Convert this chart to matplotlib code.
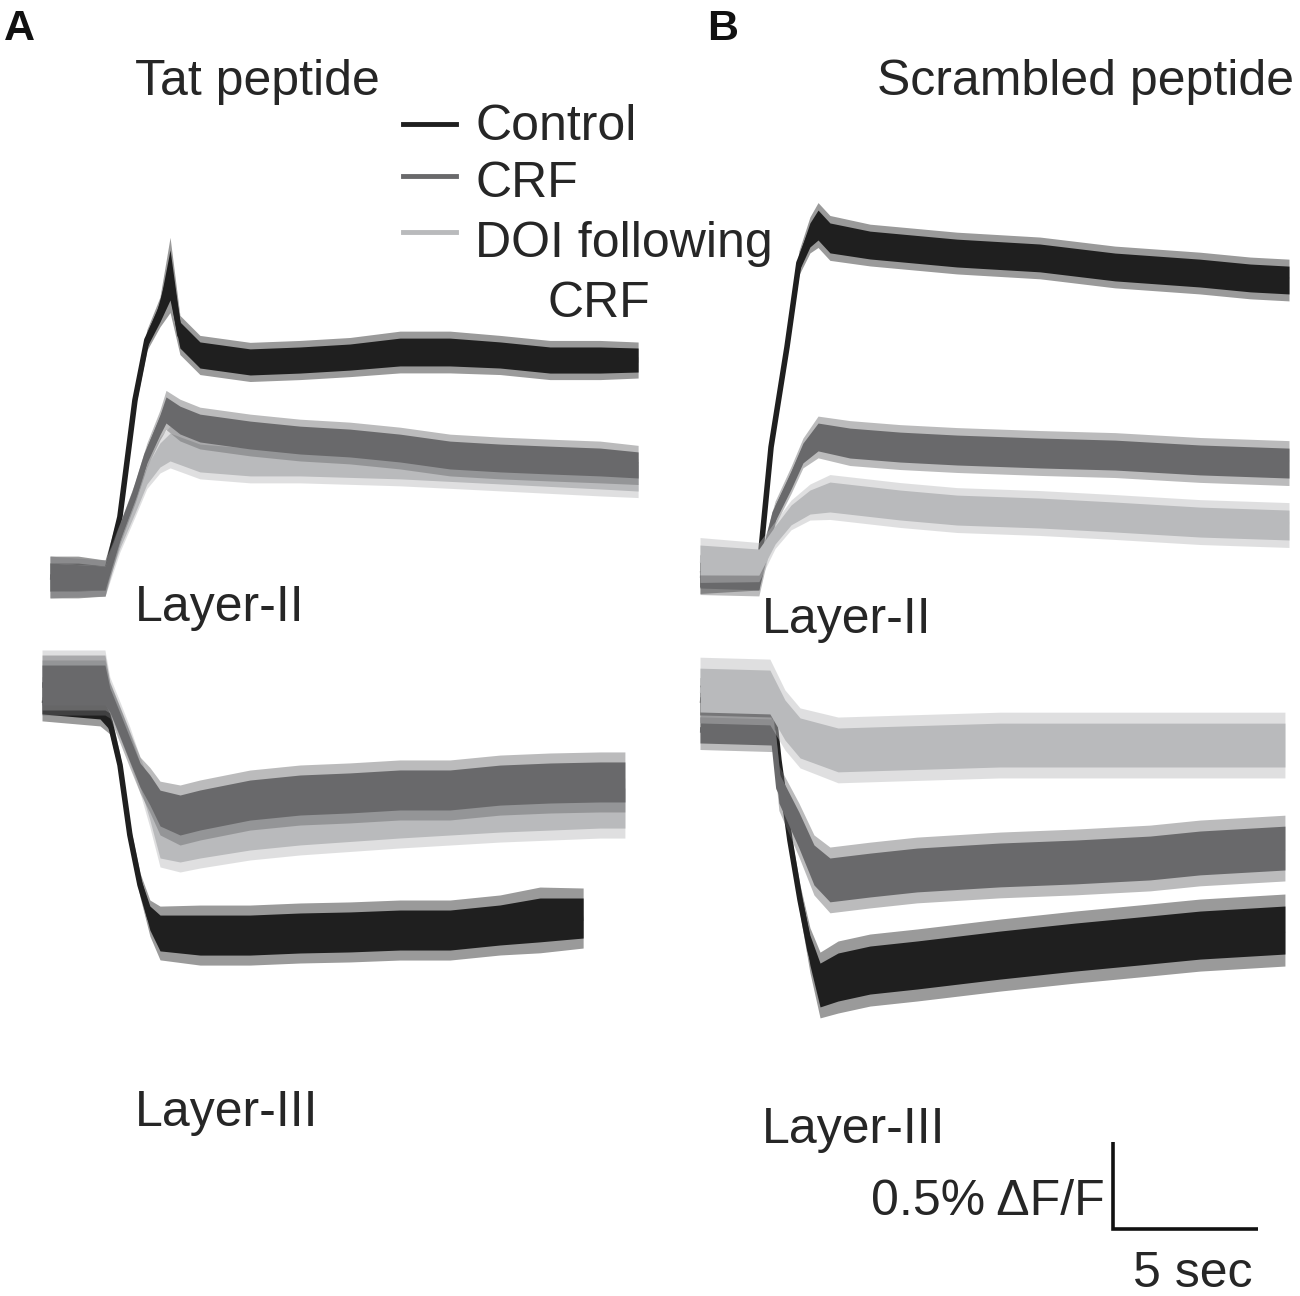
import numpy as np
import matplotlib
matplotlib.use("Agg")
import matplotlib.pyplot as plt

plt.rcParams['font.family'] = ['Liberation Sans', 'DejaVu Sans']

# ---------------- data (time in s, value in % dF/F relative to group baseline, half-width of noise band in %) ----
# Panel A (Tat peptide) - Layer II
a2_ctrl_t = [0.00, 0.97, 1.90, 2.41, 2.93, 3.34, 3.79, 4.14, 4.48, 5.17, 6.90, 8.62, 10.34, 12.07, 13.79, 15.52, 17.24, 18.97, 20.28]
a2_ctrl_v = [0.000, 0.000, -0.006, 0.345, 1.017, 1.362, 1.523, 1.736, 1.391, 1.276, 1.236, 1.247, 1.264, 1.293, 1.293, 1.276, 1.247, 1.247, 1.247]
a2_ctrl_w = [0.080, 0.080, 0.069, 0.034, 0.034, 0.040, 0.057, 0.144, 0.075, 0.075, 0.075, 0.075, 0.075, 0.080, 0.080, 0.075, 0.075, 0.075, 0.069]

a2_crf_t = [0.00, 1.90, 2.41, 2.93, 3.34, 3.79, 4.00, 4.48, 5.17, 6.90, 8.62, 10.34, 12.07, 13.79, 15.52, 17.24, 18.97, 20.28]
a2_crf_v = [0.000, -0.006, 0.253, 0.483, 0.701, 0.874, 0.960, 0.902, 0.856, 0.816, 0.787, 0.770, 0.741, 0.701, 0.684, 0.672, 0.661, 0.644]
a2_crf_w = [0.080, 0.069, 0.040, 0.040, 0.046, 0.057, 0.075, 0.080, 0.080, 0.080, 0.080, 0.080, 0.080, 0.080, 0.080, 0.080, 0.080, 0.075]

a2_doi_t = [0.00, 1.90, 2.41, 2.93, 3.34, 3.79, 4.14, 5.17, 6.90, 8.62, 12.07, 15.52, 18.97, 20.28]
a2_doi_v = [0.000, -0.006, 0.213, 0.414, 0.586, 0.701, 0.747, 0.684, 0.661, 0.661, 0.644, 0.615, 0.586, 0.569]
a2_doi_w = [0.080, 0.069, 0.046, 0.046, 0.052, 0.069, 0.080, 0.080, 0.080, 0.080, 0.080, 0.080, 0.080, 0.075]

# Panel A (Tat peptide) - Layer III
a3_ctrl_t = [0.00, 2.00, 2.34, 2.69, 3.03, 3.38, 3.72, 4.07, 5.45, 7.17, 8.90, 10.62, 12.34, 14.07, 15.79, 17.17, 18.66]
a3_ctrl_v = [0.000, -0.029, -0.126, -0.374, -0.776, -1.063, -1.253, -1.339, -1.351, -1.351, -1.339, -1.333, -1.322, -1.322, -1.293, -1.264, -1.253]
a3_ctrl_w = [0.080, 0.080, 0.046, 0.040, 0.040, 0.046, 0.069, 0.103, 0.115, 0.115, 0.115, 0.115, 0.115, 0.115, 0.115, 0.126, 0.115]

a3_crf_t = [0.00, 2.17, 2.34, 2.69, 3.03, 3.38, 3.72, 4.07, 4.76, 5.45, 7.17, 8.90, 10.62, 12.34, 14.07, 15.79, 17.52, 19.24, 20.10]
a3_crf_v = [0.086, 0.086, 0.000, -0.144, -0.287, -0.431, -0.517, -0.621, -0.661, -0.632, -0.575, -0.546, -0.534, -0.517, -0.517, -0.489, -0.477, -0.471, -0.471]
a3_crf_w = [0.115, 0.115, 0.069, 0.069, 0.069, 0.069, 0.086, 0.103, 0.115, 0.115, 0.115, 0.115, 0.115, 0.115, 0.115, 0.115, 0.115, 0.115, 0.115]

a3_doi_t = [0.00, 2.17, 2.34, 2.69, 3.03, 3.38, 3.72, 4.07, 4.76, 5.45, 7.17, 8.90, 12.34, 15.79, 19.24, 20.10]
a3_doi_v = [0.115, 0.115, 0.029, -0.115, -0.259, -0.431, -0.603, -0.805, -0.816, -0.793, -0.747, -0.718, -0.678, -0.644, -0.621, -0.621]
a3_doi_w = [0.115, 0.115, 0.069, 0.069, 0.069, 0.069, 0.086, 0.103, 0.115, 0.115, 0.115, 0.115, 0.115, 0.115, 0.115, 0.115]

# Panel B (Scrambled peptide) - Layer II
b2_ctrl_t = [0.00, 2.03, 2.45, 3.00, 3.41, 3.79, 4.07, 4.48, 5.86, 8.86, 11.72, 14.31, 17.24, 18.97, 20.31]
b2_ctrl_v = [-0.011, 0.000, 0.718, 1.293, 1.776, 1.937, 1.994, 1.920, 1.879, 1.833, 1.805, 1.753, 1.718, 1.690, 1.678]
b2_ctrl_w = [0.075, 0.069, 0.034, 0.034, 0.046, 0.069, 0.086, 0.086, 0.080, 0.080, 0.080, 0.080, 0.080, 0.080, 0.080]

b2_crf_t = [0.00, 2.03, 2.59, 3.14, 3.55, 4.07, 5.17, 6.90, 8.86, 11.72, 14.31, 17.24, 20.31]
b2_crf_v = [-0.017, -0.034, 0.339, 0.529, 0.684, 0.776, 0.741, 0.718, 0.701, 0.684, 0.672, 0.644, 0.626]
b2_crf_w = [0.075, 0.069, 0.046, 0.052, 0.057, 0.080, 0.086, 0.086, 0.086, 0.086, 0.086, 0.086, 0.086]

b2_doi_t = [0.00, 2.03, 2.59, 3.14, 3.79, 4.48, 6.90, 8.86, 11.72, 14.31, 17.24, 20.31]
b2_doi_v = [0.069, 0.057, 0.213, 0.328, 0.402, 0.431, 0.385, 0.356, 0.339, 0.316, 0.287, 0.270]
b2_doi_w = [0.086, 0.075, 0.052, 0.057, 0.069, 0.086, 0.086, 0.086, 0.086, 0.086, 0.086, 0.086]

# Panel B (Scrambled peptide) - Layer III
b3_ctrl_t = [0.00, 2.52, 2.72, 3.10, 3.45, 3.79, 4.14, 4.76, 5.86, 7.48, 10.34, 12.93, 15.52, 17.24, 20.17]
b3_ctrl_v = [0.000, -0.029, -0.345, -0.805, -1.149, -1.437, -1.638, -1.592, -1.552, -1.523, -1.466, -1.420, -1.379, -1.351, -1.322]
b3_ctrl_w = [0.086, 0.069, 0.046, 0.046, 0.057, 0.086, 0.126, 0.138, 0.138, 0.138, 0.138, 0.138, 0.138, 0.138, 0.138]

b3_crf_t = [0.00, 2.52, 2.72, 3.41, 3.93, 4.48, 5.86, 7.48, 10.34, 12.93, 15.52, 17.24, 20.17]
b3_crf_v = [-0.172, -0.184, -0.506, -0.747, -0.948, -1.034, -1.006, -0.977, -0.948, -0.931, -0.908, -0.879, -0.851]
b3_crf_w = [0.075, 0.075, 0.086, 0.103, 0.115, 0.126, 0.126, 0.126, 0.126, 0.126, 0.126, 0.126, 0.126]

b3_doi_t = [0.00, 2.41, 2.93, 3.45, 4.76, 6.90, 10.34, 13.79, 17.24, 20.17]
b3_doi_v = [0.057, 0.046, -0.115, -0.218, -0.287, -0.276, -0.259, -0.259, -0.259, -0.259]
b3_doi_w = [0.126, 0.126, 0.115, 0.115, 0.126, 0.126, 0.126, 0.126, 0.126, 0.126]

legend_labels = ["Control", "CRF", "DOI following\n        CRF"]
panel_titles = ["Tat peptide", "Scrambled peptide"]
layer_labels = ["Layer-II", "Layer-III"]
scale_y_value = 0.5   # % dF/F
scale_x_value = 5     # sec

# ---------------- styles / layout ----------------
C_CTRL = '#1f1f1f'
C_CRF = '#69696b'
C_DOI = '#b9babc'
TXT = '#262626'

W, H = 1300, 1296
PX_PER_S = 29.0
PX_PER_PCT = 174.0

fig = plt.figure(figsize=(W / 100, H / 100), dpi=100)
ax = fig.add_axes([0, 0, 1, 1])
ax.set_xlim(0, W / PX_PER_S)
ax.set_ylim(0, H / PX_PER_PCT)
ax.axis('off')


def origin(xpx, ypx):
    return xpx / PX_PER_S, (H - ypx) / PX_PER_PCT


def trace(org, t, v, w, color, z):
    x0, y0 = org
    t = np.asarray(t) + x0
    v = np.asarray(v) + y0
    w = np.asarray(w)
    ax.fill_between(t, v - 1.5 * w, v + 1.5 * w, color=color, alpha=0.45, lw=0, zorder=z)
    ax.fill_between(t, v - w, v + w, color=color, lw=0, zorder=z + 0.5)
    ax.plot(t, v, color=color, lw=4, zorder=z + 0.6, solid_joinstyle='round', solid_capstyle='butt')


oA2 = origin(50, 577)
oA3 = origin(42, 700)
oB2 = origin(700, 572)
oB3 = origin(700, 700)

trace(oA2, a2_ctrl_t, a2_ctrl_v, a2_ctrl_w, C_CTRL, 1)
trace(oA2, a2_doi_t, a2_doi_v, a2_doi_w, C_DOI, 2)
trace(oA2, a2_crf_t, a2_crf_v, a2_crf_w, C_CRF, 3)

trace(oA3, a3_ctrl_t, a3_ctrl_v, a3_ctrl_w, C_CTRL, 1)
trace(oA3, a3_doi_t, a3_doi_v, a3_doi_w, C_DOI, 2)
trace(oA3, a3_crf_t, a3_crf_v, a3_crf_w, C_CRF, 3)

trace(oB2, b2_ctrl_t, b2_ctrl_v, b2_ctrl_w, C_CTRL, 1)
trace(oB2, b2_crf_t, b2_crf_v, b2_crf_w, C_CRF, 2)
trace(oB2, b2_doi_t, b2_doi_v, b2_doi_w, C_DOI, 3)

trace(oB3, b3_ctrl_t, b3_ctrl_v, b3_ctrl_w, C_CTRL, 1)
trace(oB3, b3_crf_t, b3_crf_v, b3_crf_w, C_CRF, 2)
trace(oB3, b3_doi_t, b3_doi_v, b3_doi_w, C_DOI, 3)

# scale bar
sx, sy = origin(1113, 1229)
ax.plot([sx, sx, sx + scale_x_value], [sy + scale_y_value, sy, sy], color='#111111', lw=2.6,
        solid_joinstyle='miter', solid_capstyle='butt', zorder=5)


def ftext(xpx, ypx, s, **kw):
    fig.text(xpx / W, 1 - ypx / H, s, **kw)


FS = 36
ftext(4, 40, "A", fontsize=31, fontweight='bold', color='#111111', va='baseline')
ftext(707, 40, "B", fontsize=31, fontweight='bold', color='#111111', va='baseline')
ftext(135, 95, panel_titles[0], fontsize=FS, color=TXT, va='baseline')
ftext(877, 95, panel_titles[1], fontsize=FS, color=TXT, va='baseline')

# legend
leg_y = [124, 176, 232]
leg_c = [C_CTRL, C_CRF, C_DOI]
for yy, cc in zip(leg_y, leg_c):
    fig.add_artist(plt.Line2D([403 / W, 456 / W], [1 - yy / H, 1 - yy / H], color=cc, lw=3.5,
                              transform=fig.transFigure))
ftext(475, 140, legend_labels[0], fontsize=FS, color=TXT, va='baseline')
ftext(475, 197, legend_labels[1], fontsize=FS, color=TXT, va='baseline')
ftext(475, 257, legend_labels[2].split("\n")[0], fontsize=FS, color=TXT, va='baseline')
ftext(548, 317, legend_labels[2].split("\n")[1].strip(), fontsize=FS, color=TXT, va='baseline')

# layer labels
ftext(135, 621, layer_labels[0], fontsize=FS, color=TXT, va='baseline')
ftext(135, 1126, layer_labels[1], fontsize=FS, color=TXT, va='baseline')
ftext(762, 633, layer_labels[0], fontsize=FS, color=TXT, va='baseline')
ftext(762, 1143, layer_labels[1], fontsize=FS, color=TXT, va='baseline')

# scale bar labels
ftext(1105, 1215, "0.5% \u0394F/F", fontsize=FS, color=TXT, va='baseline', ha='right')
ftext(1133, 1287, "5 sec", fontsize=FS, color=TXT, va='baseline')

fig.savefig("out.png", dpi=100)
